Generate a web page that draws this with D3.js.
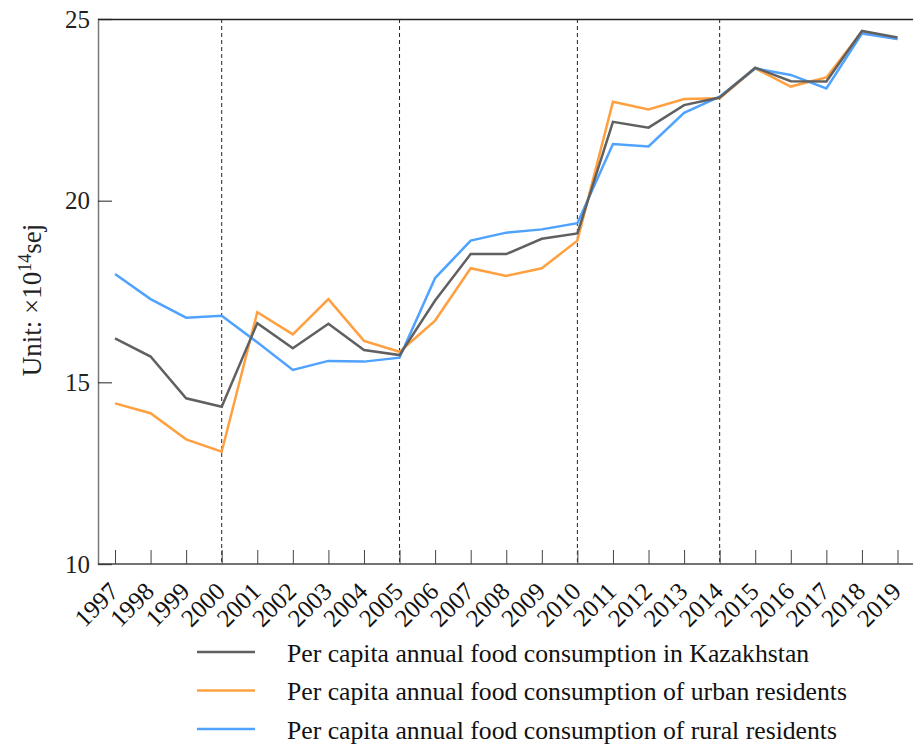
<!DOCTYPE html>
<html>
<head>
<meta charset="utf-8">
<script src="https://cdn.jsdelivr.net/npm/d3@7"></script>
<style>
  body { margin: 0; background: #fff; }
  svg { display: block; }
  svg text { font-family: "Liberation Serif", "Times New Roman", "DejaVu Serif", serif; }
</style>
</head>
<body>
<div id="chart"></div>
<script>
const years = d3.range(1997, 2020);
const kazakhstan = [16.21, 15.71, 14.56, 14.33, 16.63, 15.94, 16.61, 15.89, 15.75, 17.25, 18.53, 18.53, 18.95, 19.10, 22.17, 22.01, 22.63, 22.84, 23.66, 23.29, 23.28, 24.67, 24.49];
const urban = [14.42, 14.15, 13.43, 13.09, 16.93, 16.32, 17.29, 16.14, 15.84, 16.70, 18.14, 17.93, 18.14, 18.90, 22.72, 22.51, 22.80, 22.82, 23.64, 23.14, 23.39, 24.65, 24.45];
const rural = [17.98, 17.29, 16.78, 16.83, 16.10, 15.34, 15.59, 15.57, 15.68, 17.87, 18.90, 19.12, 19.21, 19.38, 21.56, 21.49, 22.42, 22.86, 23.64, 23.46, 23.09, 24.60, 24.45];
const seriesNames = [
  "Per capita annual food consumption in Kazakhstan",
  "Per capita annual food consumption of urban residents",
  "Per capita annual food consumption of rural residents"
];
const colors = ["#606060", "#ffa040", "#4fa3ff"];
const dividerYears = [2000, 2005, 2010, 2014];
const yTicks = [10, 15, 20, 25];

const width = 913, height = 745;
const m = { left: 98, right: 913, top: 19, bottom: 564 };

const x = d3.scaleLinear().domain([1997, 2019]).range([115, 897.5]);
const y = d3.scaleLinear().domain([10, 25]).range([m.bottom, m.top]);

const svg = d3.select("#chart").append("svg")
  .attr("width", width)
  .attr("height", height);

// divider lines
svg.append("g")
  .selectAll("line")
  .data(dividerYears)
  .join("line")
  .attr("x1", d => x(d)).attr("x2", d => x(d))
  .attr("y1", m.top).attr("y2", m.bottom)
  .attr("stroke", "#222")
  .attr("stroke-width", 1)
  .attr("stroke-dasharray", "4,3");

// top frame line
svg.append("line")
  .attr("x1", m.left).attr("x2", m.right)
  .attr("y1", m.top + 0.5).attr("y2", m.top + 0.5)
  .attr("stroke", "#222").attr("stroke-width", 1.5);

// y axis
const yAxis = svg.append("g")
  .attr("transform", `translate(${m.left},0)`)
  .call(d3.axisRight(y).tickValues(yTicks).tickSize(14).tickFormat(""));
yAxis.select(".domain").attr("stroke", "#777").attr("stroke-width", 1.5);
yAxis.selectAll(".tick line").attr("stroke", "#222");

svg.append("g")
  .selectAll("text")
  .data(yTicks)
  .join("text")
  .attr("x", m.left - 8)
  .attr("y", d => y(d))
  .attr("dy", "0.34em")
  .attr("text-anchor", "end")
  .attr("font-size", 25)
  .attr("fill", "#222")
  .text(d => d);

// x axis
const xAxis = svg.append("g")
  .attr("transform", `translate(0,${m.bottom})`)
  .call(d3.axisTop(x).tickValues(years).tickSize(14).tickFormat(""));
xAxis.select(".domain").remove();
xAxis.selectAll(".tick line").attr("stroke", "#444");
svg.append("line")
  .attr("x1", m.left).attr("x2", m.right)
  .attr("y1", m.bottom).attr("y2", m.bottom)
  .attr("stroke", "#444").attr("stroke-width", 1.5);

svg.append("g")
  .selectAll("text")
  .data(years)
  .join("text")
  .attr("transform", d => `translate(${x(d) + 5},${m.bottom + 29}) rotate(-45)`)
  .attr("text-anchor", "end")
  .attr("font-size", 25)
  .attr("fill", "#111")
  .text(d => d);

// y label
const ylab = svg.append("text")
  .attr("transform", `translate(41,300) rotate(-90)`)
  .attr("text-anchor", "middle")
  .attr("font-size", 27)
  .attr("fill", "#222");
ylab.append("tspan").text("Unit: ×10");
ylab.append("tspan").attr("baseline-shift", "super").attr("font-size", 18).text("14");
ylab.append("tspan").text("sej");

// lines
const allSeries = [kazakhstan, urban, rural];
const line = d3.line()
  .x((d, i) => x(years[i]))
  .y(d => y(d));

svg.append("g")
  .selectAll("path")
  .data([urban, rural, kazakhstan])
  .join("path")
  .attr("fill", "none")
  .attr("stroke", d => colors[allSeries.indexOf(d)])
  .attr("stroke-width", 2.5)
  .attr("stroke-linejoin", "miter")
  .attr("d", line);

// legend
const legend = svg.append("g")
  .selectAll("g")
  .data(seriesNames)
  .join("g")
  .attr("transform", (d, i) => `translate(197,${652 + i * 38.5})`);
legend.append("line")
  .attr("x1", 0).attr("x2", 58)
  .attr("stroke", (d, i) => colors[i])
  .attr("stroke-width", 2.5);
legend.append("text")
  .attr("x", 90)
  .attr("dy", "0.37em")
  .attr("font-size", 25.7)
  .attr("fill", "#111")
  .text(d => d);
</script>
</body>
</html>
